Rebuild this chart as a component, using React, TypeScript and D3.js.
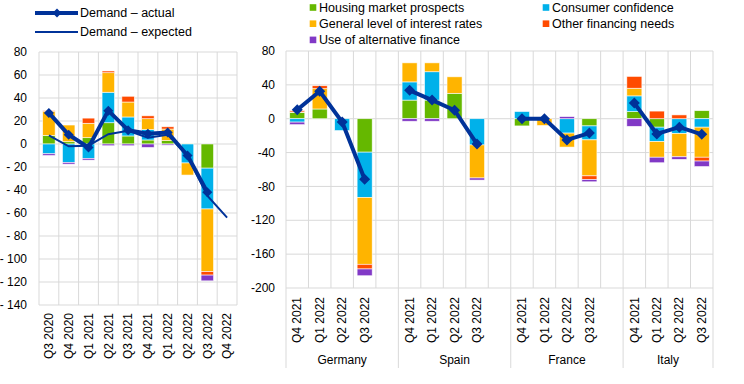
import React from "react";
import * as d3 from "d3";

// ---------- Data ----------
const seriesNames = [
  "Housing market prospects",
  "Consumer confidence",
  "General level of interest rates",
  "Other financing needs",
  "Use of alternative finance",
];
const seriesColors = ["#65B800", "#00B1EA", "#FFB400", "#FF4B00", "#8139C6"];

// Left panel: euro area
const leftQuarters = [
  "Q3 2020", "Q4 2020", "Q1 2021", "Q2 2021", "Q3 2021",
  "Q4 2021", "Q1 2022", "Q2 2022", "Q3 2022", "Q4 2022",
];
const leftHousing = [7.5, 2, 5.5, 18.5, 7, 3.5, 3, 0.5, -21, 0];
const leftConsumer = [-8.5, -16, -12.5, 26.5, 16.5, 9, 0, -16.5, -35.5, 0];
const leftInterest = [21, 14.5, 12.5, 17, 13, 9.5, 10, -10.5, -54.5, 0];
const leftOther = [0.5, 0, 4.5, 1.5, 5, 2.5, 2, 0, -3, 0];
const leftAlternative = [-1.5, -1.5, -1.5, -1.5, -1.5, -3, -1, 0, -5, 0];
const leftActual = [27, 8, -3, 29, 12, 9, 10, -10, -42, null];
const leftExpected = [7.5, -2, -1.5, 8.5, 11.5, 5.5, 8, -10, -45, -64];
const leftTicks = [80, 60, 40, 20, 0, -20, -40, -60, -80, -100, -120, -140];

// Right panel: countries
const countries = ["Germany", "Spain", "France", "Italy"];
const rightQuarters = ["Q4 2021", "Q1 2022", "Q2 2022", "Q3 2022"];
// values listed country by country, quarter by quarter
const rightHousing = [
  7.5, 11.5, 0, -39.5,
  22, 22, 30, 0,
  -8.5, 0, 0, -8.5,
  8.5, -10, 0, 9.5,
];
const rightConsumer = [
  -4, 0, -14, -53.5,
  21.5, 33.5, 0, -31,
  8.5, 0, -17, -16.5,
  18.5, -17, -17.5, -10,
];
const rightInterest = [
  0.5, 24, 0, -79,
  22.5, 10.5, 19.5, -39,
  0, -8, -16.5, -42.5,
  9, -18.5, -27.5, -35.5,
];
const rightOther = [
  1.5, 3.5, 0, -5.5,
  0, 0, 0, 0,
  0, 0, 0, -4.5,
  14, 9, 4.5, -4.5,
];
const rightAlternative = [
  -3, 0, 0, -8,
  -3, -3, 0, -2.5,
  0, 0, 2.5, -2.5,
  -9, -6.5, -3, -6.5,
];
const rightActual = [
  10.5, 32.5, -4, -71.5,
  33.5, 22, 10, -30,
  0, 0, -25, -17,
  18.5, -18, -10, -18.5,
];
const rightTicks = [80, 40, 0, -40, -80, -120, -160, -200];

// ---------- Helpers ----------
const FONT = "'Liberation Sans', Arial, sans-serif";
const GRID = "#d9d9d9";
const LINE = "#003299";
const keys = ["h", "c", "i", "o", "a"];

type Row = { idx: number; h: number; c: number; i: number; o: number; a: number };

function buildStack(rows: Row[]) {
  return d3
    .stack<Row>()
    .keys(keys)
    .order(d3.stackOrderNone)
    .offset(d3.stackOffsetDiverging)(rows);
}

function diamondPath(r: number) {
  return `M0,${-r}L${r},0L0,${r}L${-r},0Z`;
}

export default function App() {
  // ----- Left panel -----
  const L = { x0: 39, x1: 237, yTop: 52, yBot: 305 };
  const lx = d3.scaleBand<string>().domain(leftQuarters).range([L.x0, L.x1]).paddingInner(0).paddingOuter(0);
  const ly = d3.scaleLinear().domain([-140, 80]).range([L.yBot, L.yTop]);
  const lRows: Row[] = leftQuarters.map((_, k) => ({
    idx: k,
    h: leftHousing[k],
    c: leftConsumer[k],
    i: leftInterest[k],
    o: leftOther[k],
    a: leftAlternative[k],
  }));
  const lStack = buildStack(lRows);
  const lBarW = lx.bandwidth() * 0.63;
  const lCx = (k: number) => (lx(leftQuarters[k]) as number) + lx.bandwidth() / 2;

  const lineGen = d3
    .line<{ x: number; y: number | null }>()
    .defined((d) => d.y !== null)
    .x((d) => d.x)
    .y((d) => d.y as number);

  const lActualPts = leftActual.map((v, k) => ({ x: lCx(k), y: v === null ? null : ly(v) }));
  const lExpectedPts = leftExpected.map((v, k) => ({ x: lCx(k), y: v === null ? null : ly(v) }));

  // ----- Right panel -----
  const R = { x0: 286, x1: 713, yTop: 51, yBot: 288 };
  const nSlots = 19;
  const slotIdx = d3.range(nSlots);
  const rx = d3.scaleBand<number>().domain(slotIdx).range([R.x0, R.x1]).paddingInner(0).paddingOuter(0);
  const ry = d3.scaleLinear().domain([-200, 80]).range([R.yBot, R.yTop]);
  const slotOf = (g: number, q: number) => g * 5 + q;
  const rRows: Row[] = [];
  countries.forEach((_, g) =>
    rightQuarters.forEach((__, q) => {
      const k = g * 4 + q;
      rRows.push({
        idx: slotOf(g, q),
        h: rightHousing[k],
        c: rightConsumer[k],
        i: rightInterest[k],
        o: rightOther[k],
        a: rightAlternative[k],
      });
    })
  );
  const rStack = buildStack(rRows);
  const rBarW = rx.bandwidth() * 0.67;
  const rCx = (s: number) => (rx(s) as number) + rx.bandwidth() / 2;

  const groupBounds = countries.map((_, g) => {
    const start = g * 5;
    const end = g < countries.length - 1 ? g * 5 + 5 : nSlots;
    return { start: rx(start) as number, end: end >= nSlots ? R.x1 : (rx(end) as number) };
  });

  const fmtLeft = (d: number) => (d < 0 ? `- ${Math.abs(d)}` : `${d}`);

  return (
    <svg
      width={744}
      height={384}
      style={{ position: "absolute", left: 0, top: 0, background: "#fff" }}
      fontFamily={FONT}
    >
      {/* ===== Left legend ===== */}
      <g>
        <line x1={35} x2={78} y1={13} y2={13} stroke={LINE} strokeWidth={4} />
        <path d={diamondPath(4.5)} transform="translate(57,13)" fill={LINE} />
        <text x={80} y={13} dy="0.35em" fontSize={12.5} fill="#000">Demand – actual</text>
        <line x1={35} x2={78} y1={32} y2={32} stroke={LINE} strokeWidth={2} />
        <text x={80} y={32} dy="0.35em" fontSize={12.5} fill="#000">Demand – expected</text>
      </g>

      {/* ===== Left panel ===== */}
      <g>
        {leftTicks.map((t) => (
          <line key={`lg${t}`} x1={L.x0} x2={L.x1} y1={ly(t)} y2={ly(t)} stroke={GRID} strokeWidth={1} />
        ))}
        {d3.range(leftQuarters.length + 1).map((k) => {
          const x = k < leftQuarters.length ? (lx(leftQuarters[k]) as number) : L.x1;
          return <line key={`lv${k}`} x1={x} x2={x} y1={L.yTop} y2={L.yBot} stroke={GRID} strokeWidth={1} />;
        })}
        {leftTicks.map((t) => (
          <text key={`lt${t}`} x={27} y={ly(t)} dy="0.35em" textAnchor="end" fontSize={12} fill="#000">
            {fmtLeft(t)}
          </text>
        ))}
        {leftQuarters.map((q, k) => (
          <text
            key={`lq${q}`}
            transform={`translate(${lCx(k)},${313}) rotate(-90)`}
            dy="0.35em"
            textAnchor="end"
            fontSize={12}
            fill="#000"
          >
            {q}
          </text>
        ))}
        {lStack.map((layer, si) =>
          layer.map((seg, k) => {
            const y0 = ly(seg[0]);
            const y1 = ly(seg[1]);
            const h = Math.abs(y0 - y1);
            if (h < 0.01) return null;
            return (
              <rect
                key={`lb${si}-${k}`}
                x={lCx(k) - lBarW / 2}
                y={Math.min(y0, y1)}
                width={lBarW}
                height={h}
                fill={seriesColors[si]}
                stroke="#fff"
                strokeWidth={0.7}
                strokeOpacity={0.8}
              />
            );
          })
        )}
        <path d={lineGen(lExpectedPts) || ""} fill="none" stroke={LINE} strokeWidth={2} />
        <path d={lineGen(lActualPts) || ""} fill="none" stroke={LINE} strokeWidth={4} strokeLinejoin="round" />
        {lActualPts.map((p, k) =>
          p.y === null ? null : (
            <path key={`ld${k}`} d={diamondPath(5)} transform={`translate(${p.x},${p.y})`} fill={LINE} />
          )
        )}
      </g>

      {/* ===== Right legend ===== */}
      <g fontSize={12.5} fill="#000">
        {seriesNames.map((name, si) => {
          const col = si % 2;
          const row = Math.floor(si / 2);
          const x = col === 0 ? 313 : 546;
          const y = 7.5 + row * 16.2;
          return (
            <g key={`leg${si}`}>
              <rect x={x - 3.3} y={y - 3.3} width={6.6} height={6.6} fill={seriesColors[si]} />
              <text x={x + 6} y={y} dy="0.35em">{name}</text>
            </g>
          );
        })}
      </g>

      {/* ===== Right panel ===== */}
      <g>
        {rightTicks.map((t) => (
          <line key={`rg${t}`} x1={R.x0} x2={R.x1} y1={ry(t)} y2={ry(t)} stroke={GRID} strokeWidth={1} />
        ))}
        {d3.range(nSlots + 1).map((s) => {
          const x = s < nSlots ? (rx(s) as number) : R.x1;
          return <line key={`rv${s}`} x1={x} x2={x} y1={R.yTop} y2={R.yBot} stroke={GRID} strokeWidth={1} />;
        })}
        {groupBounds.map((b, g) => (
          <g key={`gb${g}`}>
            <line x1={b.start} x2={b.start} y1={R.yBot} y2={368} stroke={GRID} strokeWidth={1} />
            {g === countries.length - 1 && (
              <line x1={b.end} x2={b.end} y1={R.yBot} y2={368} stroke={GRID} strokeWidth={1} />
            )}
            <text x={(b.start + b.end) / 2} y={364} textAnchor="middle" fontSize={12} fill="#000">
              {countries[g]}
            </text>
          </g>
        ))}
        {rightTicks.map((t) => (
          <text key={`rt${t}`} x={275} y={ry(t)} dy="0.35em" textAnchor="end" fontSize={12} fill="#000">
            {t}
          </text>
        ))}
        {countries.map((_, g) =>
          rightQuarters.map((q, qi) => (
            <text
              key={`rq${g}-${qi}`}
              transform={`translate(${rCx(slotOf(g, qi))},${297}) rotate(-90)`}
              dy="0.35em"
              textAnchor="end"
              fontSize={12}
              fill="#000"
            >
              {q}
            </text>
          ))
        )}
        {rStack.map((layer, si) =>
          layer.map((seg, k) => {
            const y0 = ry(seg[0]);
            const y1 = ry(seg[1]);
            const h = Math.abs(y0 - y1);
            if (h < 0.01) return null;
            const s = seg.data.idx;
            return (
              <rect
                key={`rb${si}-${k}`}
                x={rCx(s) - rBarW / 2}
                y={Math.min(y0, y1)}
                width={rBarW}
                height={h}
                fill={seriesColors[si]}
                stroke="#fff"
                strokeWidth={0.7}
                strokeOpacity={0.8}
              />
            );
          })
        )}
        {countries.map((_, g) => {
          const pts = rightQuarters.map((__, q) => ({
            x: rCx(slotOf(g, q)),
            y: ry(rightActual[g * 4 + q]),
          }));
          return (
            <g key={`ra${g}`}>
              <path d={lineGen(pts) || ""} fill="none" stroke={LINE} strokeWidth={4} strokeLinejoin="round" />
              {pts.map((p, k) => (
                <path key={`rd${g}-${k}`} d={diamondPath(5.5)} transform={`translate(${p.x},${p.y})`} fill={LINE} />
              ))}
            </g>
          );
        })}
      </g>
    </svg>
  );
}
